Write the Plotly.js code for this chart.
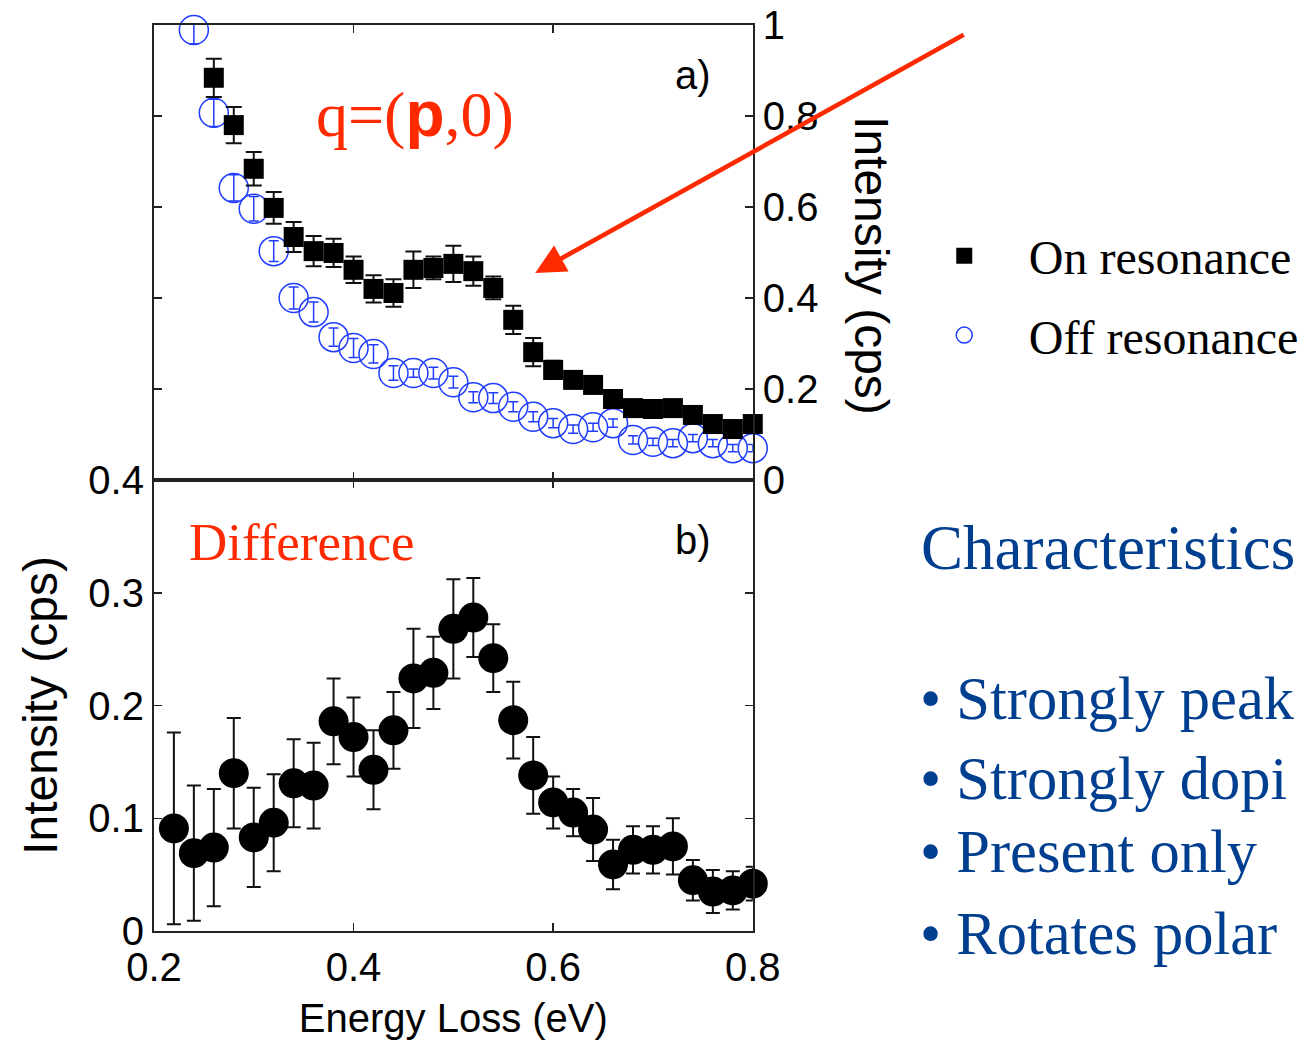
<!DOCTYPE html>
<html><head><meta charset="utf-8">
<script src="https://cdn.plot.ly/plotly-3.0.1.min.js"></script>
<style>html,body{margin:0;padding:0;background:#fff;overflow:hidden}#chart{width:1304px;height:1045px}</style>
</head><body><div id="chart"></div>
<script>
// Panel a) On resonance (filled squares)
const onX = [0.26,0.28,0.30,0.32,0.34,0.36,0.38,0.40,0.42,0.44,0.46,0.48,0.50,0.52,0.54,0.56,0.58,0.60,0.62,0.64,0.66,0.68,0.70,0.72,0.74,0.76,0.78,0.80];
const onY = [0.884,0.780,0.684,0.598,0.534,0.503,0.499,0.462,0.420,0.411,0.462,0.466,0.475,0.459,0.422,0.352,0.281,0.242,0.220,0.209,0.178,0.158,0.156,0.158,0.143,0.123,0.112,0.123];
const onErr = [0.042,0.040,0.037,0.035,0.033,0.033,0.031,0.029,0.030,0.030,0.040,0.025,0.040,0.032,0.025,0.031,0.031,0.020,0.018,0.018,0.017,0.016,0.016,0.016,0.015,0.014,0.013,0.013];
// Panel a) Off resonance (open circles)
const offX = [0.24,0.26,0.28,0.30,0.32,0.34,0.36,0.38,0.40,0.42,0.44,0.46,0.48,0.50,0.52,0.54,0.56,0.58,0.60,0.62,0.64,0.66,0.68,0.70,0.72,0.74,0.76,0.78,0.80];
const offY = [0.989,0.807,0.642,0.596,0.503,0.400,0.369,0.314,0.290,0.277,0.235,0.235,0.235,0.215,0.182,0.180,0.161,0.139,0.125,0.112,0.116,0.125,0.088,0.084,0.081,0.092,0.081,0.070,0.070];
const offErr = [0.030,0.030,0.029,0.027,0.023,0.024,0.022,0.020,0.021,0.020,0.016,0.009,0.013,0.013,0.012,0.012,0.011,0.011,0.010,0.009,0.009,0.009,0.009,0.008,0.008,0.008,0.008,0.008,0.008];
// Panel b) Difference
const diffX = [0.22,0.24,0.26,0.28,0.30,0.32,0.34,0.36,0.38,0.40,0.42,0.44,0.46,0.48,0.50,0.52,0.54,0.56,0.58,0.60,0.62,0.64,0.66,0.68,0.70,0.72,0.74,0.76,0.78,0.80];
const diffY = [0.091,0.069,0.074,0.140,0.083,0.096,0.131,0.129,0.186,0.172,0.143,0.178,0.224,0.229,0.268,0.278,0.242,0.187,0.138,0.114,0.105,0.090,0.059,0.072,0.072,0.075,0.045,0.035,0.036,0.042];
const diffErr = [0.085,0.060,0.052,0.049,0.044,0.043,0.039,0.038,0.038,0.035,0.035,0.034,0.044,0.032,0.044,0.035,0.030,0.034,0.034,0.023,0.021,0.028,0.022,0.021,0.021,0.025,0.018,0.019,0.017,0.015];

const xTicks = [0.2,0.4,0.6,0.8];
const xTickText = ['0.2','0.4','0.6','0.8'];
const yTicksB = [0,0.1,0.2,0.3,0.4];
const yTickTextB = ['0','0.1','0.2','0.3','0.4'];
const yTicksA = [0,0.2,0.4,0.6,0.8,1];
const yTickTextA = ['0','0.2','0.4','0.6','0.8','1'];
const bullets = ['• Strongly peak','• Strongly dopi','• Present only','• Rotates polar'];

const SANS = 'Liberation Sans, Arial, sans-serif';
const SERIF = 'Liberation Serif, Times New Roman, serif';
const RED = '#ff2a00';
const BLUE = '#1f3cff';
const NAVY = '#003f8f';

// page geometry helpers (plot area = page minus bottom margin)
const W = 1304, H = 1045, MB = 100;
const px = v => v / W;
const py = v => (H - MB - v) / (H - MB);

const traces = [
  {x: offX, y: offY, xaxis:'x2', yaxis:'y2', type:'scatter', mode:'markers', name:'Off resonance',
   legendrank: 2, legendgroup:'off', cliponaxis:false,
   marker:{symbol:'circle-open', size:29, color:BLUE, line:{width:1.5, color:BLUE}},
   error_y:{type:'data', array:offErr, visible:true, color:BLUE, thickness:1.5, width:5}},
  {x: onX, y: onY, xaxis:'x2', yaxis:'y2', type:'scatter', mode:'markers', name:'On resonance',
   legendrank: 1, legendgroup:'on', cliponaxis:false,
   marker:{symbol:'square', size:20, color:'#000'},
   error_y:{type:'data', array:onErr, visible:true, color:'#111', thickness:2, width:8}},
  {x: diffX, y: diffY, xaxis:'x', yaxis:'y', type:'scatter', mode:'markers', name:'Difference',
   showlegend:false, cliponaxis:false,
   marker:{symbol:'circle', size:30, color:'#000'},
   error_y:{type:'data', array:diffErr, visible:true, color:'#111', thickness:2, width:7}}
];

const axCommon = {showline:true, linecolor:'#222', linewidth:2, mirror:'ticks', ticks:'inside',
  ticklen:8, tickwidth:1.5, tickcolor:'#222', showgrid:false, zeroline:false,
  tickfont:{family:SANS, size:40, color:'#000'}};

const xDom = [px(155), px(758)];
const layout = {
  width:W, height:H, margin:{l:0,r:0,t:0,b:MB},
  paper_bgcolor:'#fff', plot_bgcolor:'rgba(0,0,0,0)',
  showlegend:true,
  legend:{x:px(906), y:py(218), xanchor:'left', yanchor:'top', bgcolor:'rgba(0,0,0,0)',
    font:{family:SERIF, size:48, color:'#000'}, itemwidth:119, traceorder:'grouped', tracegroupgap:14},
  xaxis: Object.assign({}, axCommon, {domain:xDom, anchor:'y', range:[0.2,0.8],
    tickvals:xTicks, ticktext:xTickText,
    title:{text:'Energy Loss (eV)', font:{family:SANS, size:40, color:'#000'}, standoff:16}}),
  yaxis: Object.assign({}, axCommon, {domain:[py(931), py(480)], anchor:'x', range:[0,0.4],
    tickvals:yTicksB, ticktext:yTickTextB,
    title:{text:'Intensity (cps)', font:{family:SANS, size:48, color:'#000'}, standoff:16}}),
  xaxis2: Object.assign({}, axCommon, {domain:xDom, anchor:'y2', range:[0.2,0.8],
    tickvals:xTicks, showticklabels:false}),
  yaxis2: Object.assign({}, axCommon, {domain:[py(480), py(25)], anchor:'x2', range:[0,1],
    side:'right', tickvals:yTicksA, ticktext:yTickTextA}),
  annotations:[
    {xref:'paper', yref:'paper', x:px(877), y:py(266), xanchor:'center', yanchor:'middle',
     text:'Intensity (cps)', textangle:90,
     showarrow:false, font:{family:SANS, size:48, color:'#000'}},
    {xref:'paper', yref:'paper', x:px(698), y:py(75), xanchor:'center', yanchor:'middle', text:'a)', showarrow:false,
     font:{family:SANS, size:40, color:'#000'}},
    {xref:'paper', yref:'paper', x:px(698), y:py(540), xanchor:'center', yanchor:'middle', text:'b)', showarrow:false,
     font:{family:SANS, size:40, color:'#000'}},
    {xref:'paper', yref:'paper', x:px(316), y:py(114), xanchor:'left', yanchor:'middle',
     text:'q=(<span style="font-family:Liberation Sans"><b>p</b></span>,0)', showarrow:false,
     font:{family:SERIF, size:64, color:RED}},
    {xref:'paper', yref:'paper', x:px(188), y:py(542), xanchor:'left', yanchor:'middle',
     text:'Difference', showarrow:false, font:{family:SERIF, size:53, color:RED}},
    {xref:'x2', yref:'y2', x:0.582, y:0.455, ax:430, ay:-239, text:'', showarrow:true,
     arrowhead:2, arrowsize:1.3, arrowwidth:4.6, arrowcolor:RED},
    {xref:'paper', yref:'paper', x:px(925), y:py(548), xanchor:'left', yanchor:'middle',
     text:'Characteristics', showarrow:false, font:{family:SERIF, size:63, color:NAVY}},
    {xref:'paper', yref:'paper', x:px(924), y:py(698), xanchor:'left', yanchor:'middle',
     text:bullets[0], showarrow:false, font:{family:SERIF, size:60.5, color:NAVY}},
    {xref:'paper', yref:'paper', x:px(924), y:py(778), xanchor:'left', yanchor:'middle',
     text:bullets[1], showarrow:false, font:{family:SERIF, size:60.5, color:NAVY}},
    {xref:'paper', yref:'paper', x:px(924), y:py(851), xanchor:'left', yanchor:'middle',
     text:bullets[2], showarrow:false, font:{family:SERIF, size:60.5, color:NAVY}},
    {xref:'paper', yref:'paper', x:px(924), y:py(933), xanchor:'left', yanchor:'middle',
     text:bullets[3], showarrow:false, font:{family:SERIF, size:60.5, color:NAVY}}
  ]
};

Plotly.newPlot('chart', traces, layout, {displayModeBar:false, staticPlot:true});
</script>
</body></html>
